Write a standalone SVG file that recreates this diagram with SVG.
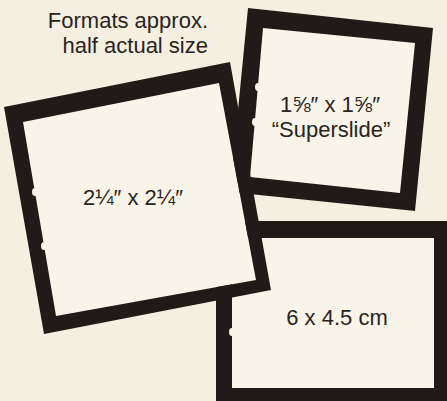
<svg xmlns="http://www.w3.org/2000/svg" width="447" height="401" viewBox="0 0 447 401">
  <style>
    .bg { fill: #f5efe1; }
    .win { fill: #f8f4ea; }
    .band { fill: #201b19; fill-rule: evenodd; }
    .notch { fill: #f8f4ea; }
    .lbl { font-family: "Liberation Sans", Arial, sans-serif; font-size: 22px; fill: #2a2420; }
  </style>
  <rect class="bg" x="0" y="0" width="447" height="401"/>

  <g id="caption">
    <text class="lbl" x="208" y="28" text-anchor="end">Formats approx.</text>
    <text class="lbl" x="208" y="53" text-anchor="end">half actual size</text>
  </g>

  <g id="frame-6x45">
    <rect class="win" x="232" y="238" width="202" height="150" rx="3"/>
    <path class="band" d="M216 221 H460 V410 H216 Z M232 238 H434 V388 H232 Z"/>
    <ellipse class="notch" cx="232" cy="332" rx="3" ry="4"/>
    <text class="lbl" x="337" y="325" text-anchor="middle">6 x 4.5 cm</text>
  </g>

  <g id="frame-superslide">
    <polygon class="win" points="263,28 415,43 400,193 250,177"/>
    <path class="band" d="M248 8 L433 28 L415 211 L230 192 Z M263 28 L250 177 L400 193 L415 43 Z"/>
    <ellipse class="notch" cx="258" cy="87" rx="3" ry="4"/>
    <ellipse class="notch" cx="255" cy="122" rx="3" ry="4"/>
    <text class="lbl" x="330" y="112" text-anchor="middle">1⅝″ x 1⅝″</text>
    <text class="lbl" x="331" y="137" text-anchor="middle">“Superslide”</text>
  </g>

  <g id="frame-2x2">
    <polygon class="win" points="23,122 219,83 256,280 56,316"/>
    <path class="band" d="M4 107 L230 62 L271 290 L44 334 Z M23 122 L56 316 L256 280 L219 83 Z"/>
    <ellipse class="notch" cx="35" cy="192" rx="3" ry="4"/>
    <ellipse class="notch" cx="44" cy="246" rx="3" ry="4"/>
    <text class="lbl" x="133" y="205" text-anchor="middle">2¼″ x 2¼″</text>
  </g>

  <g id="connectors"/>
</svg>
